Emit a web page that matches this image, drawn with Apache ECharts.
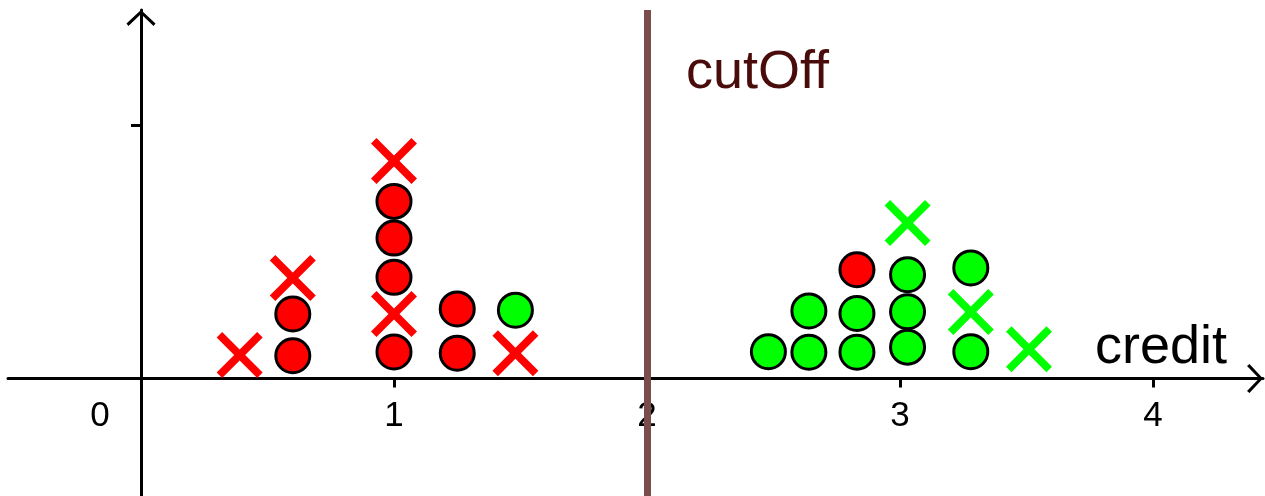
<!DOCTYPE html>
<html>
<head>
<meta charset="utf-8">
<script src="https://cdn.jsdelivr.net/npm/echarts@6/dist/echarts.min.js"></script>
<style>
  html, body { margin: 0; padding: 0; background: #fff; }
  #chart { width: 1265px; height: 496px; }
</style>
</head>
<body>
<div id="chart"></div>
<script>
// points, [credit, stack height]
const redCircles = [
  [0.60, 0.09], [0.60, 0.255],
  [1.00, 0.105], [1.00, 0.40], [1.00, 0.555], [1.00, 0.70],
  [1.25, 0.10], [1.25, 0.275],
  [2.83, 0.43]
]
const redCrosses = [
  [0.39, 0.093], [0.60, 0.397], [1.00, 0.255], [1.00, 0.86], [1.48, 0.10]
]
const greenCircles = [
  [1.48, 0.27],
  [2.48, 0.106],
  [2.64, 0.104], [2.64, 0.267],
  [2.83, 0.104], [2.83, 0.257],
  [3.03, 0.124], [3.03, 0.264], [3.03, 0.41],
  [3.28, 0.106], [3.28, 0.437]
]
const greenCrosses = [
  [3.03, 0.615], [3.28, 0.263], [3.51, 0.116]
]
const xTickLabels = [0, 1, 2, 3, 4]
const xTicks = [1, 2, 3, 4]
const yTicks = [1]
const cutOff = 2

const FONT = 'Liberation Sans, Arial, sans-serif'
const CROSS = 'path://M0,12 L12,0 L50,38 L88,0 L100,12 L62,50 L100,88 L88,100 L50,62 L12,100 L0,88 L38,50 Z'
const CHEVRON = 'path://M15,0 L30,14 L28,16.5 L15,4 L2,16.5 L0,14 Z'

const chart = echarts.init(document.getElementById('chart'), null, { renderer: 'canvas' })

const axisLine = {
  onZero: true,
  symbol: ['none', CHEVRON],
  symbolSize: [29, 16],
  symbolOffset: [0, -8],
  lineStyle: { color: '#000', width: 3 }
}

function circleSeries (name, data, color) {
  return {
    name: name,
    type: 'scatter',
    data: data,
    symbol: 'circle',
    symbolSize: 34,
    itemStyle: { color: color, borderColor: '#000', borderWidth: 3, opacity: 1 },
    z: 3
  }
}

function crossSeries (name, data, color) {
  return {
    name: name,
    type: 'scatter',
    data: data,
    symbol: CROSS,
    symbolSize: 46,
    itemStyle: { color: color, borderWidth: 0, opacity: 1 },
    z: 3
  }
}

chart.setOption({
  animation: false,
  grid: { left: 8, right: 2, top: 10, bottom: 0, containLabel: false, outerBoundsMode: 'none' },
  xAxis: {
    type: 'value',
    min: -0.5257,
    max: 4.435,
    axisLine: axisLine,
    axisTick: {
      show: true,
      customValues: xTicks,
      length: 9,
      lineStyle: { color: '#000', width: 3 }
    },
    axisLabel: {
      customValues: xTickLabels,
      // labels sit at the grid's bottom edge, pull them up under the zero line
      margin: -97,
      color: '#000',
      fontFamily: FONT,
      fontSize: 35,
      formatter: function (v) {
        return v === 0 ? '{z|0}' : String(v)
      },
      rich: {
        z: { fontFamily: FONT, fontSize: 35, color: '#000', padding: [0, 82, 0, 0] }
      }
    },
    splitLine: { show: false }
  },
  yAxis: {
    type: 'value',
    min: -0.4644,
    max: 1.4565,
    axisLine: axisLine,
    axisTick: {
      show: true,
      customValues: yTicks,
      length: 10,
      lineStyle: { color: '#000', width: 3 }
    },
    axisLabel: { show: false },
    splitLine: { show: false }
  },
  graphic: [
    {
      type: 'text',
      left: 686,
      top: 46,
      style: { text: 'cutOff', fill: '#4a0b0b', font: '54px ' + FONT }
    },
    {
      type: 'text',
      left: 1095,
      top: 321,
      style: { text: 'credit', fill: '#000', font: '54px ' + FONT }
    }
  ],
  series: [
    circleSeries('red circles', redCircles, '#ff0000'),
    crossSeries('red crosses', redCrosses, '#ff0000'),
    circleSeries('green circles', greenCircles, '#00ff00'),
    crossSeries('green crosses', greenCrosses, '#00ff00'),
    {
      name: 'cutOff',
      type: 'scatter',
      data: [],
      markLine: {
        silent: true,
        symbol: ['none', 'none'],
        label: { show: false },
        lineStyle: { color: '#7a4d4d', width: 7, type: 'solid' },
        data: [{ xAxis: cutOff }]
      },
      z: 2
    }
  ]
})
</script>
</body>
</html>
